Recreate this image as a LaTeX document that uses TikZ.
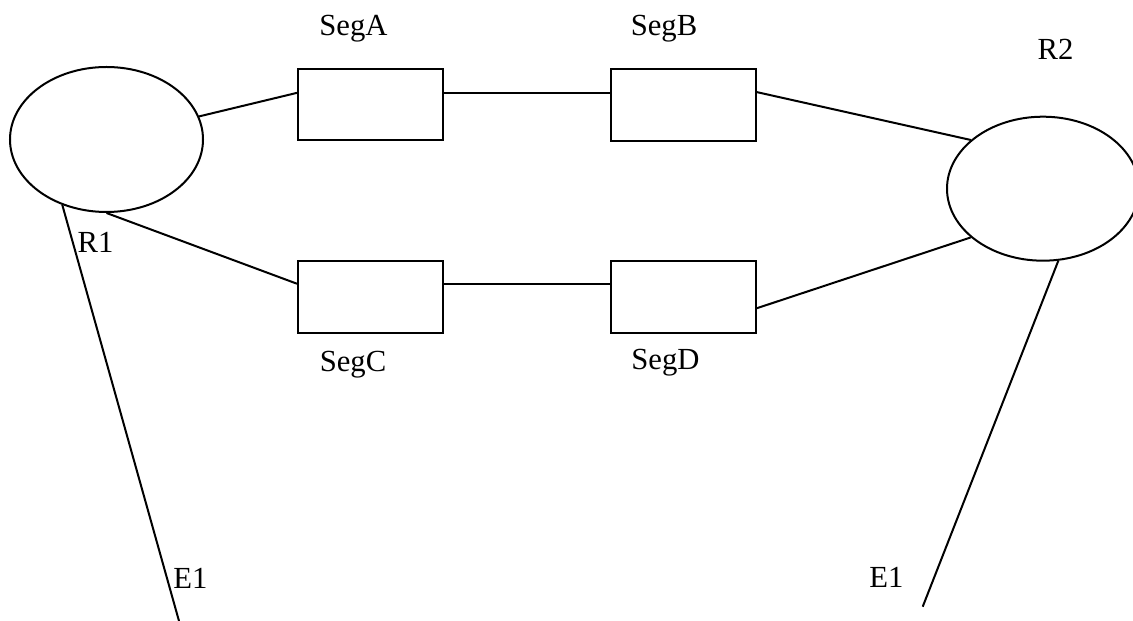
\documentclass[tikz,border=0pt]{standalone}
\usepackage{fontspec}
\setmainfont{Liberation Serif}
\usetikzlibrary{shapes.geometric}
\tikzset{
  router/.style={draw, ellipse, line width=1.5pt, inner sep=0pt, minimum width=144.75pt, minimum height=108.75pt},
  segbox/.style={draw, rectangle, line width=1.5pt, inner sep=0pt, minimum width=108.75pt, minimum height=53.75pt},
  link/.style={line width=1.5pt},
  lbl/.style={anchor=base, inner sep=0pt, font=\fontsize{23}{27}\selectfont}
}
\begin{document}
\begin{tikzpicture}[x=0.75pt,y=0.75pt]
        \clip (0,0) rectangle (1133,621);
        % routers and segments
        \node [router] (R1) at (106.5,481.5) {};
        \node [router, minimum width=144pt, minimum height=108pt] (R2) at (1043,432.3) {};
        \node [segbox] (SegA) at (370.5,516.5) {};
        \node [segbox] (SegB) at (683,516) {};
        \node [segbox] (SegC) at (370.5,324.3) {};
        \node [segbox] (SegD) at (683,324.3) {};
        \coordinate (E1left) at (179,0);
        \coordinate (E1right) at (922.7,14.3);

        \draw [link] (R1.14) -- (SegA.171);
        \draw [link] (SegA.9) -- (SegA.9 -| SegB.west);
        \draw [link] (SegB.10) -- (R2.146);
        \draw [link] (R1.270) -- (SegC.170);
        \draw [link] (SegC.10) -- (SegC.10 -| SegD.west);
        \draw [link] (SegD.351) -- (R2.214);
        \draw [link] (R1.236) -- (E1left);
        \draw [link] (R2.282) -- (E1right);

        \node [lbl] (lSegA) at (353.5,585) {SegA};
        \node [lbl] (lSegB) at (664,585.3) {SegB};
        \node [lbl] (lSegC) at (353,249.5) {SegC};
        \node [lbl] (lSegD) at (665.5,251) {SegD};
        \node [lbl] (lR1) at (95.5,368.3) {R1};
        \node [lbl] (lR2) at (1055.5,561.7) {R2};
        \node [lbl] (lE1left) at (190.5,32) {E1};
        \node [lbl] (lE1right) at (886.5,33) {E1};
\end{tikzpicture}
\end{document}
